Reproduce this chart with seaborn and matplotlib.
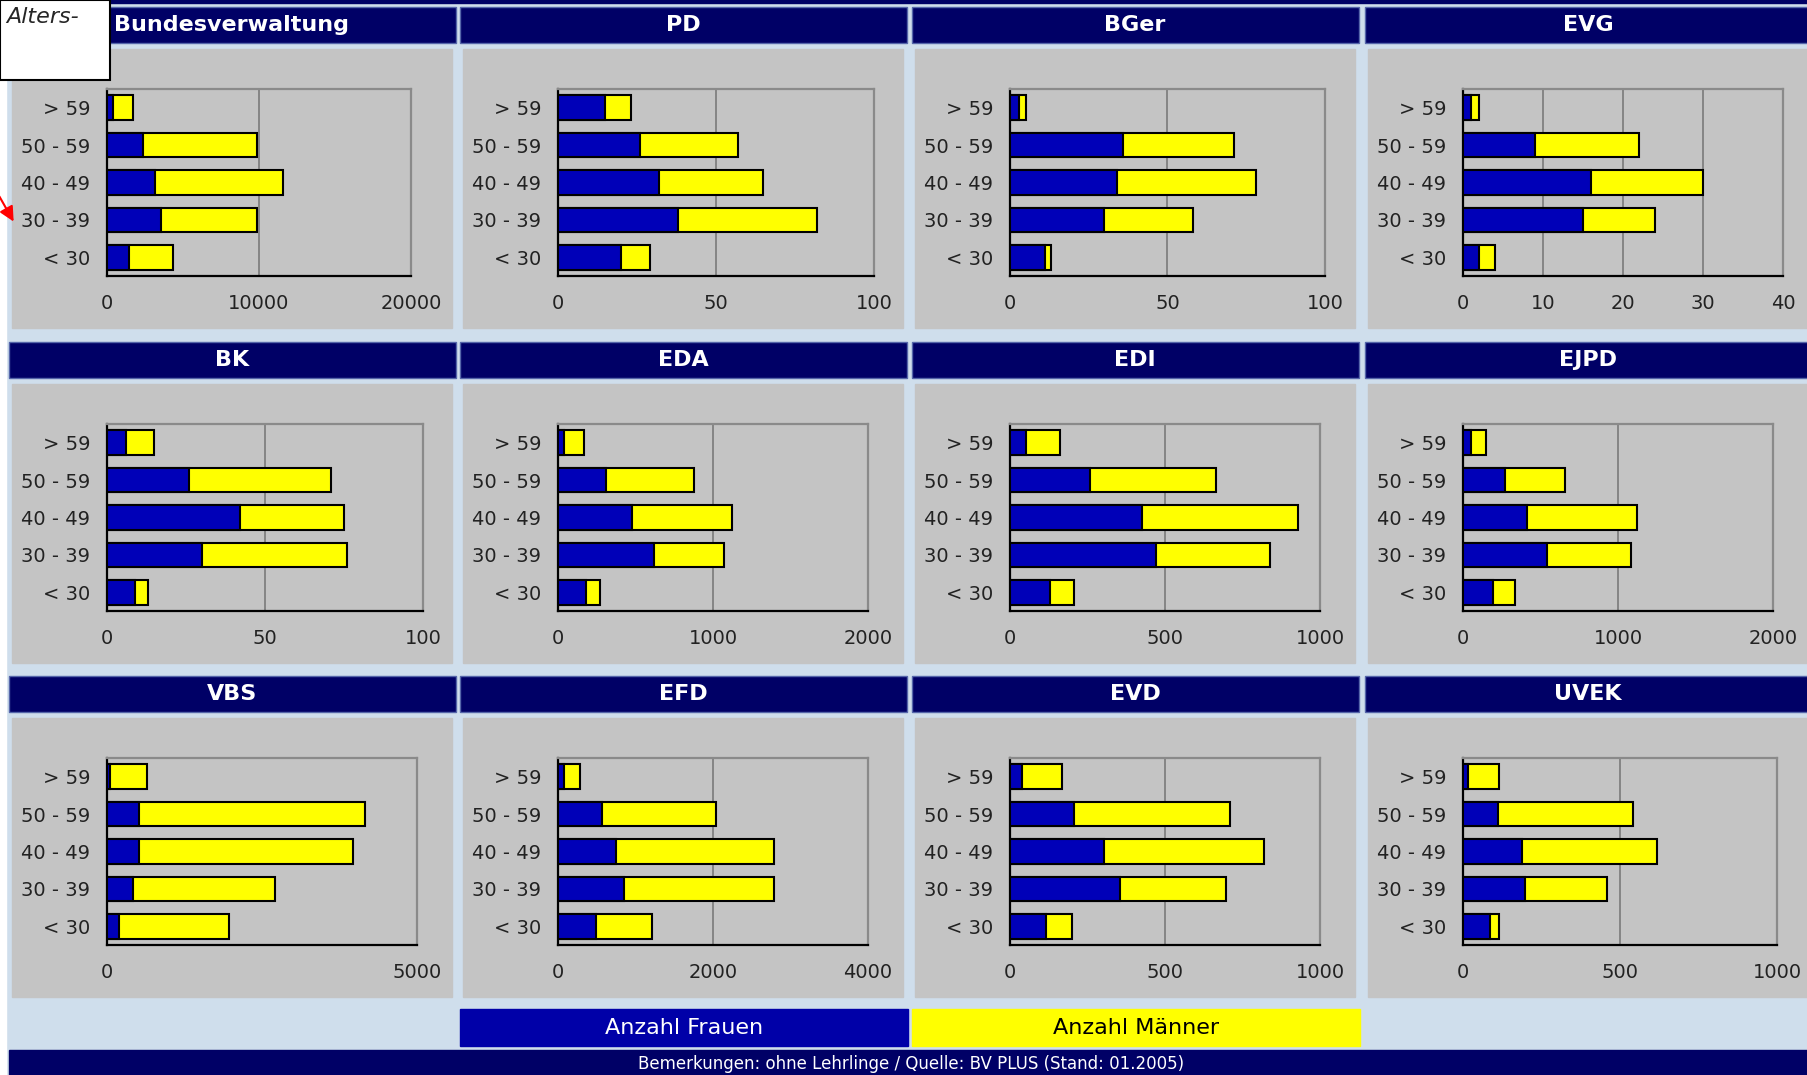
import numpy as np
import pandas as pd
import matplotlib
matplotlib.use("Agg")
import matplotlib.pyplot as plt
from matplotlib.patches import Rectangle
import seaborn as sns

# age groups, top to bottom
ages = ["> 59", "50 - 59", "40 - 49", "30 - 39", "< 30"]

departments = ["Bundesverwaltung", "PD", "BGer", "EVG",
               "BK", "EDA", "EDI", "EJPD",
               "VBS", "EFD", "EVD", "UVEK"]

# Anzahl Frauen per department (same order as ages)
frauen = [
    [400, 2370, 3160, 3560, 1450],
    [15, 26, 32, 38, 20],
    [3, 36, 34, 30, 11],
    [1, 9, 16, 15, 2],
    [6, 26, 42, 30, 9],
    [37, 310, 480, 619, 183],
    [53, 258, 426, 471, 130],
    [52, 271, 413, 542, 191],
    [54, 511, 511, 420, 188],
    [73, 568, 748, 856, 495],
    [39, 206, 303, 355, 116],
    [15, 110, 188, 199, 85],
]

# Anzahl Männer per department
maenner = [
    [1310, 7510, 8430, 6320, 2870],
    [8, 31, 33, 44, 9],
    [2, 35, 44, 28, 2],
    [1, 13, 14, 9, 2],
    [9, 45, 33, 46, 4],
    [133, 567, 643, 452, 90],
    [108, 405, 503, 367, 76],
    [98, 385, 707, 540, 142],
    [586, 3655, 3461, 2293, 1782],
    [211, 1471, 2039, 1931, 718],
    [128, 503, 516, 341, 83],
    [99, 430, 430, 261, 29],
]

# axis range and tick step per panel
x_max = [20000, 100, 100, 40, 100, 2000, 1000, 2000, 5000, 4000, 1000, 1000]
x_step = [10000, 50, 50, 10, 50, 1000, 500, 1000, 5000, 2000, 500, 500]

legend_labels = ["Anzahl Frauen", "Anzahl Männer"]
footer_text = "Bemerkungen: ohne Lehrlinge / Quelle: BV PLUS (Stand: 01.2005)"

NAVY = "#000066"
BLUE = "#0000B8"
YELLOW = "#FFFF00"
PANEL = "#C4C4C4"
BG = "#CFDEEC"

W, H = 1808, 1075
sns.set_style("white")
plt.rcParams["font.family"] = ["DejaVu Sans"]

fig = plt.figure(figsize=(W / 100, H / 100), dpi=100)
fig.patch.set_facecolor(BG)


def px_rect(x, y, w, h):
    return [x / W, 1 - (y + h) / H, w / W, h / H]


bg = fig.add_axes([0, 0, 1, 1], zorder=-5)
bg.set_xlim(0, W)
bg.set_ylim(H, 0)
bg.axis("off")

bg.add_patch(Rectangle((0, 0), 6, H, color="white"))
bg.add_patch(Rectangle((0, 0), W, 2.5, color=NAVY))

col_x = [9, 460, 912, 1365]
row_y = [7, 342, 676]
ax_width = [304, 316, 315, 320, 316, 310, 310, 310, 310, 310, 310, 314]

for i, name in enumerate(departments):
    r, c = divmod(i, 4)
    x0, y0 = col_x[c], row_y[r]
    # title bar
    bg.add_patch(Rectangle((x0, y0), 447, 36, facecolor=NAVY,
                           edgecolor="#5566aa", lw=1))
    bg.text(x0 + 223, y0 + 18, name, color="white", fontsize=16,
            fontweight="bold", ha="center", va="center")
    # grey panel
    bg.add_patch(Rectangle((x0 + 3, y0 + 42), 440, 279, color=PANEL))

    ax = fig.add_axes(px_rect(x0 + 98, y0 + 82, ax_width[i], 187))
    df = pd.DataFrame({"age": ages,
                       "frauen": frauen[i],
                       "total": np.array(frauen[i]) + np.array(maenner[i])})
    sns.barplot(data=df, x="total", y="age", order=ages, color=YELLOW,
                saturation=1, edgecolor="black", linewidth=1.5, width=0.66,
                errorbar=None, ax=ax, zorder=3)
    sns.barplot(data=df, x="frauen", y="age", order=ages, color=BLUE,
                saturation=1, edgecolor="black", linewidth=1.5, width=0.66,
                errorbar=None, ax=ax, zorder=4)

    ax.set_facecolor("none")
    ax.set_xlim(0, x_max[i])
    ax.set_ylim(4.5, -0.5)
    ticks = np.arange(0, x_max[i] + 1, x_step[i])
    ax.set_xticks(ticks)
    ax.set_xticklabels([str(int(t)) for t in ticks])
    ax.set_yticks(np.arange(-0.5, 5, 1), minor=True)
    ax.set_xlabel("")
    ax.set_ylabel("")
    ax.grid(axis="x", color="#808080", lw=1.3, zorder=0)
    ax.set_axisbelow(True)

    for side in ["left", "bottom"]:
        ax.spines[side].set_color("black")
        ax.spines[side].set_linewidth(1.6)
    for side in ["top", "right"]:
        ax.spines[side].set_color("#8a8a8a")
        ax.spines[side].set_linewidth(1.6)

    ax.tick_params(axis="y", which="major", length=0, pad=12,
                   labelsize=14, labelcolor="#222222")
    ax.tick_params(axis="y", which="minor", length=7, width=1.5,
                   direction="out", color="black")
    ax.tick_params(axis="x", which="major", length=7, width=1.5,
                   direction="out", color="black", pad=6,
                   labelsize=14, labelcolor="#222222")

# legend boxes
leg_colors = ["#0000A8", YELLOW]
leg_text_colors = ["white", "black"]
for k, lab in enumerate(legend_labels):
    lx = 460 + k * 452
    bg.add_patch(Rectangle((lx, 1009), 448, 37, color=leg_colors[k]))
    bg.text(lx + 224, 1028, lab, color=leg_text_colors[k], fontsize=16,
            ha="center", va="center")

# footer
bg.add_patch(Rectangle((9, 1050), W - 9, 25, color=NAVY))
bg.text(911, 1064, footer_text, color="white", fontsize=12,
        ha="center", va="center")

# note box at top-left
bg.add_patch(Rectangle((0, 0), 110, 80, facecolor="white",
                       edgecolor="black", lw=1.5, zorder=10))
bg.text(6, 7, "Alters-", fontsize=16, style="italic", ha="left",
        va="top", zorder=11)
bg.annotate("", xy=(15, 224), xytext=(-2, 194), annotation_clip=False,
            arrowprops=dict(arrowstyle="-|>", color="red", lw=1.5,
                            mutation_scale=22))

fig.savefig("out.png", dpi=100, facecolor=fig.get_facecolor())
